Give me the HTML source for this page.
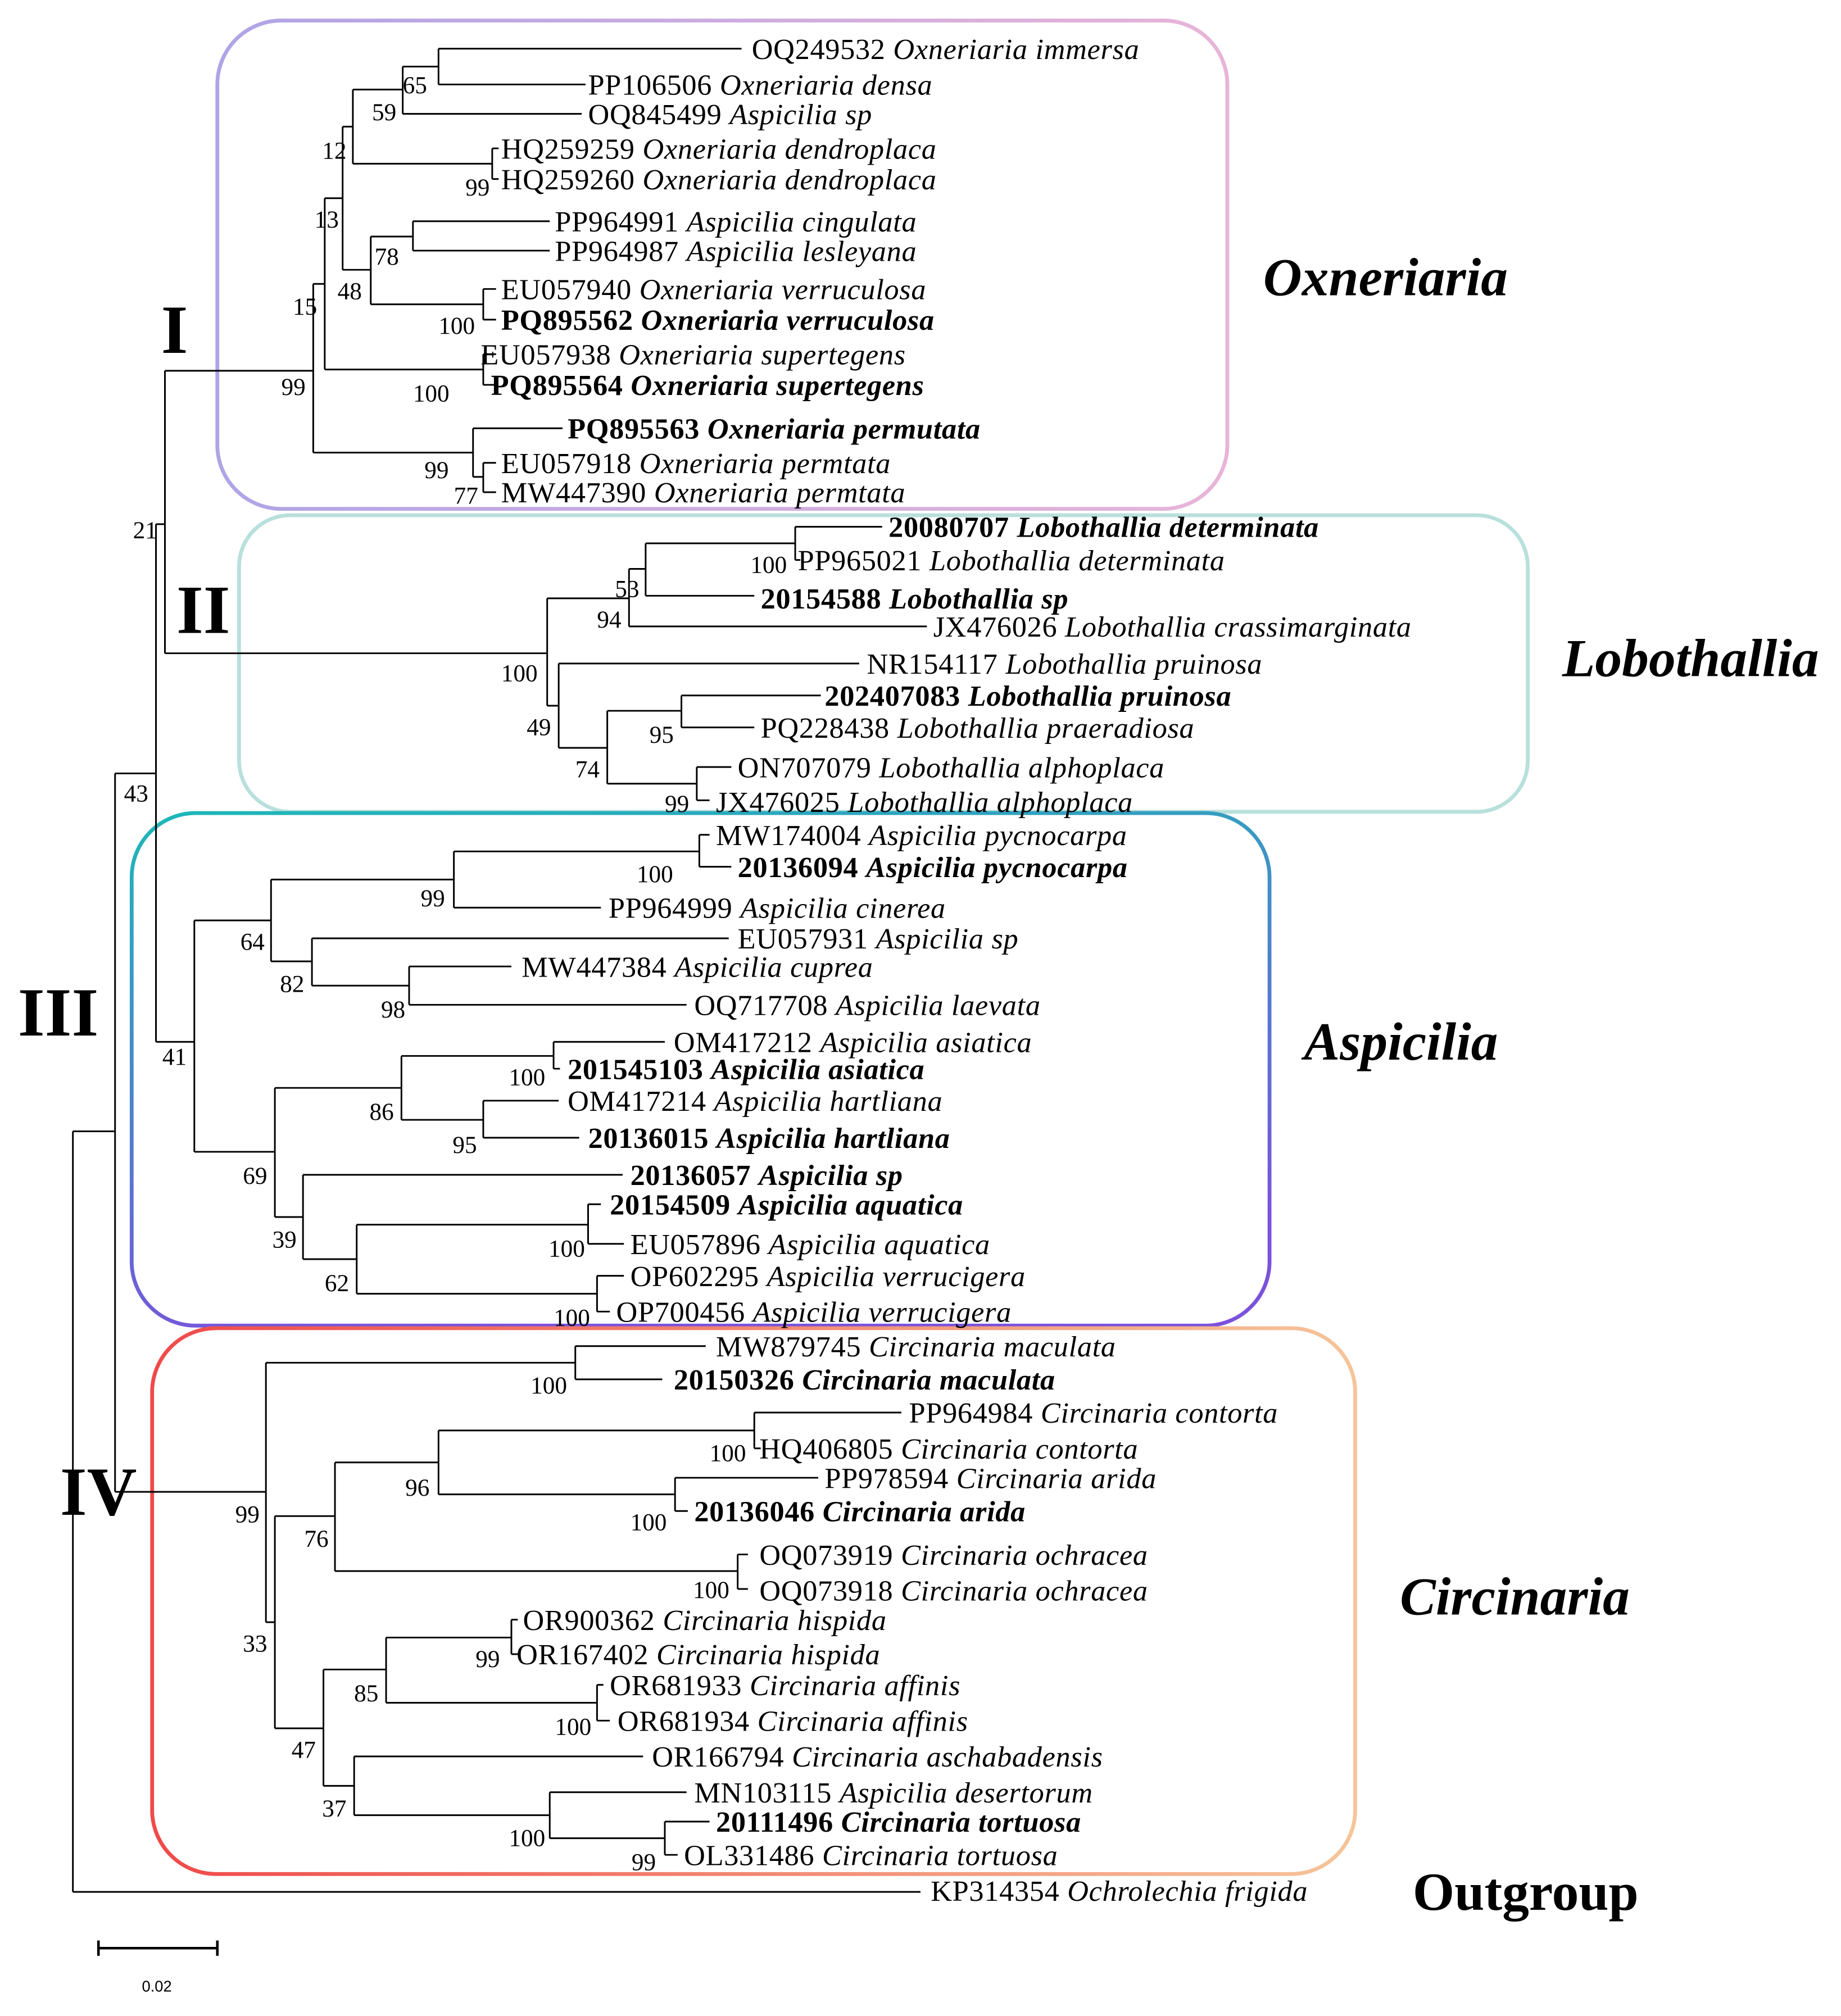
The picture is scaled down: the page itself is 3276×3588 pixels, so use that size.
<!DOCTYPE html>
<html><head><meta charset="utf-8"><style>html,body{margin:0;padding:0;background:#fff}svg{display:block}</style></head><body>
<svg xmlns="http://www.w3.org/2000/svg" width="3276" height="3588" viewBox="0 0 1440 1577">
<defs>
<linearGradient id="g1" x1="0" y1="0" x2="1" y2="0"><stop offset="0" stop-color="#b0a4e6"/><stop offset="1" stop-color="#e8b4d8"/></linearGradient>
<linearGradient id="g3" x1="0" y1="0" x2="0.3" y2="1"><stop offset="0" stop-color="#1db8b8"/><stop offset="1" stop-color="#7a52dc"/></linearGradient>
<linearGradient id="g4" x1="0" y1="0" x2="1" y2="0"><stop offset="0" stop-color="#ef4a4a"/><stop offset="1" stop-color="#f6c49a"/></linearGradient>
</defs>
<rect width="1440" height="1577" fill="#fff"/>
<g fill="none" stroke-width="3">
<rect x="170" y="16" width="790" height="382" rx="50" stroke="url(#g1)"/>
<rect x="187" y="403" width="1008" height="232" rx="40" stroke="#b8e0dc"/>
<rect x="103" y="636" width="890" height="401" rx="50" stroke="url(#g3)"/>
<rect x="119" y="1039" width="941" height="427" rx="50" stroke="url(#g4)"/>
</g>
<g stroke="#000" stroke-width="1.3" fill="none">
<path d="M343 38H580M343 66H458M343 38V66M315 52H343M315 89H455M315 52V89"/>
<path d="M385 116H390M385 140H390M385 116V140M276 70H315M276 128H385M276 70V128"/>
<path d="M323 173H430M323 196H430M323 173V196M378 226H388M378 250H388M378 226V250M290 185H323M290 238H378M290 185V238"/>
<path d="M268 99H276M268 211H290M268 99V211M378 277H388M378 301H388M378 277V301M254 155H268M254 289H378M254 155V289"/>
<path d="M378 362H388M378 385H388M378 362V385M370 335H440M370 373H378M370 335V373M245 222H254M245 354H370M245 222V354"/>
<path d="M129 290H245M129 290V511M129 511H428"/>
<path d="M622 412H690M622 438H626M622 412V438M505 425H622M505 466H590M505 425V466M492 445H505M492 490H725M492 445V490"/>
<path d="M533 544H642M533 569H590M533 544V569M545 600H572M545 626H555M545 600V626M475 556H533M475 613H545M475 556V613M437 519H672M437 585H475M437 519V585M428 468H492M428 552H437M428 468V552"/>
<path d="M122 410H129M122 410V815M122 815H152M90 605H122M90 605V1167M90 1167H208M57 885H90M57 885V1480M57 1480H720"/>
<path d="M547 653H555M547 678H572M547 653V678M355 666H547M355 710H470M355 666V710M320 756H400M320 786H537M320 756V786M244 734H570M244 771H320M244 734V771M212 688H355M212 752H244M212 688V752M152 720H212M152 720V901"/>
<path d="M433 815H520M433 836H438M433 815V836M378 861H437M378 890H453M378 861V890M314 826H433M314 876H378M314 826V876"/>
<path d="M460 942H470M460 973H488M460 942V973M467 998H488M467 1026H477M467 998V1026M279 958H460M279 1012H467M279 958V1012M237 919H487M237 985H279M237 919V985M215 851H314M215 952H237M215 851V952M152 901H215"/>
<path d="M450 1053H552M450 1079H518M450 1053V1079M590 1105H705M590 1133H595M590 1105V1133M528 1156H640M528 1182H538M528 1156V1182M343 1119H590M343 1169H528M343 1119V1169"/>
<path d="M577 1216H585M577 1243H585M577 1216V1243M262 1144H343M262 1229H577M262 1144V1229"/>
<path d="M400 1267H405M400 1294H405M400 1267V1294M467 1318H472M467 1346H477M467 1318V1346M302 1281H400M302 1332H467M302 1281V1332"/>
<path d="M520 1425H555M520 1451H530M520 1425V1451M430 1402H537M430 1438H520M430 1402V1438M277 1374H503M277 1420H430M277 1374V1420M253 1306H302M253 1397H277M253 1306V1397M215 1186H262M215 1352H253M215 1186V1352M208 1066H450M208 1269H215M208 1066V1269"/>
<path d="M77 1524H170M77 1518V1530M170 1518V1530" stroke-width="2"/>
</g>
<g font-family="Liberation Serif, serif" font-size="23" letter-spacing="0.3" fill="#000">
<text x="588" y="46">OQ249532 <tspan font-style="italic">Oxneriaria immersa</tspan></text>
<text x="460" y="74">PP106506 <tspan font-style="italic">Oxneriaria densa</tspan></text>
<text x="460" y="97">OQ845499 <tspan font-style="italic">Aspicilia sp</tspan></text>
<text x="392" y="124">HQ259259 <tspan font-style="italic">Oxneriaria dendroplaca</tspan></text>
<text x="392" y="148">HQ259260 <tspan font-style="italic">Oxneriaria dendroplaca</tspan></text>
<text x="434" y="181">PP964991 <tspan font-style="italic">Aspicilia cingulata</tspan></text>
<text x="434" y="204">PP964987 <tspan font-style="italic">Aspicilia lesleyana</tspan></text>
<text x="392" y="234">EU057940 <tspan font-style="italic">Oxneriaria verruculosa</tspan></text>
<text x="392" y="258" font-weight="bold">PQ895562 <tspan font-style="italic">Oxneriaria verruculosa</tspan></text>
<text x="376" y="285">EU057938 <tspan font-style="italic">Oxneriaria supertegens</tspan></text>
<text x="384" y="309" font-weight="bold">PQ895564 <tspan font-style="italic">Oxneriaria supertegens</tspan></text>
<text x="444" y="343" font-weight="bold">PQ895563 <tspan font-style="italic">Oxneriaria permutata</tspan></text>
<text x="392" y="370">EU057918 <tspan font-style="italic">Oxneriaria permtata</tspan></text>
<text x="392" y="393">MW447390 <tspan font-style="italic">Oxneriaria permtata</tspan></text>
<text x="695" y="420" font-weight="bold">20080707 <tspan font-style="italic">Lobothallia determinata</tspan></text>
<text x="624" y="446">PP965021 <tspan font-style="italic">Lobothallia determinata</tspan></text>
<text x="595" y="476" font-weight="bold">20154588 <tspan font-style="italic">Lobothallia sp</tspan></text>
<text x="730" y="498">JX476026 <tspan font-style="italic">Lobothallia crassimarginata</tspan></text>
<text x="678" y="527">NR154117 <tspan font-style="italic">Lobothallia pruinosa</tspan></text>
<text x="645" y="552" font-weight="bold">202407083 <tspan font-style="italic">Lobothallia pruinosa</tspan></text>
<text x="595" y="577">PQ228438 <tspan font-style="italic">Lobothallia praeradiosa</tspan></text>
<text x="577" y="608">ON707079 <tspan font-style="italic">Lobothallia alphoplaca</tspan></text>
<text x="560" y="635">JX476025 <tspan font-style="italic">Lobothallia alphoplaca</tspan></text>
<text x="560" y="661">MW174004 <tspan font-style="italic">Aspicilia pycnocarpa</tspan></text>
<text x="577" y="686" font-weight="bold">20136094 <tspan font-style="italic">Aspicilia pycnocarpa</tspan></text>
<text x="476" y="718">PP964999 <tspan font-style="italic">Aspicilia cinerea</tspan></text>
<text x="577" y="742">EU057931 <tspan font-style="italic">Aspicilia sp</tspan></text>
<text x="408" y="764">MW447384 <tspan font-style="italic">Aspicilia cuprea</tspan></text>
<text x="543" y="794">OQ717708 <tspan font-style="italic">Aspicilia laevata</tspan></text>
<text x="527" y="823">OM417212 <tspan font-style="italic">Aspicilia asiatica</tspan></text>
<text x="444" y="844" font-weight="bold">201545103 <tspan font-style="italic">Aspicilia asiatica</tspan></text>
<text x="444" y="869">OM417214 <tspan font-style="italic">Aspicilia hartliana</tspan></text>
<text x="460" y="898" font-weight="bold">20136015 <tspan font-style="italic">Aspicilia hartliana</tspan></text>
<text x="493" y="927" font-weight="bold">20136057 <tspan font-style="italic">Aspicilia sp</tspan></text>
<text x="477" y="950" font-weight="bold">20154509 <tspan font-style="italic">Aspicilia aquatica</tspan></text>
<text x="493" y="981">EU057896 <tspan font-style="italic">Aspicilia aquatica</tspan></text>
<text x="493" y="1006">OP602295 <tspan font-style="italic">Aspicilia verrucigera</tspan></text>
<text x="482" y="1034">OP700456 <tspan font-style="italic">Aspicilia verrucigera</tspan></text>
<text x="560" y="1061">MW879745 <tspan font-style="italic">Circinaria maculata</tspan></text>
<text x="527" y="1087" font-weight="bold">20150326 <tspan font-style="italic">Circinaria maculata</tspan></text>
<text x="711" y="1113">PP964984 <tspan font-style="italic">Circinaria contorta</tspan></text>
<text x="594" y="1141">HQ406805 <tspan font-style="italic">Circinaria contorta</tspan></text>
<text x="645" y="1164">PP978594 <tspan font-style="italic">Circinaria arida</tspan></text>
<text x="543" y="1190" font-weight="bold">20136046 <tspan font-style="italic">Circinaria arida</tspan></text>
<text x="594" y="1224">OQ073919 <tspan font-style="italic">Circinaria ochracea</tspan></text>
<text x="594" y="1252">OQ073918 <tspan font-style="italic">Circinaria ochracea</tspan></text>
<text x="409" y="1275">OR900362 <tspan font-style="italic">Circinaria hispida</tspan></text>
<text x="404" y="1302">OR167402 <tspan font-style="italic">Circinaria hispida</tspan></text>
<text x="477" y="1326">OR681933 <tspan font-style="italic">Circinaria affinis</tspan></text>
<text x="483" y="1354">OR681934 <tspan font-style="italic">Circinaria affinis</tspan></text>
<text x="510" y="1382">OR166794 <tspan font-style="italic">Circinaria aschabadensis</tspan></text>
<text x="543" y="1410">MN103115 <tspan font-style="italic">Aspicilia desertorum</tspan></text>
<text x="560" y="1433" font-weight="bold">20111496 <tspan font-style="italic">Circinaria tortuosa</tspan></text>
<text x="535" y="1459">OL331486 <tspan font-style="italic">Circinaria tortuosa</tspan></text>
<text x="728" y="1487">KP314354 <tspan font-style="italic">Ochrolechia frigida</tspan></text>
</g>
<g font-family="Liberation Serif, serif" font-size="19" fill="#000">
<text x="315" y="73">65</text><text x="291" y="94">59</text><text x="252" y="124">12</text><text x="364" y="153">99</text>
<text x="246" y="178">13</text><text x="293" y="207">78</text><text x="264" y="234">48</text><text x="343" y="261">100</text>
<text x="229" y="246">15</text><text x="323" y="314">100</text><text x="220" y="309">99</text><text x="332" y="374">99</text><text x="355" y="394">77</text>
<text x="104" y="421">21</text><text x="587" y="448">100</text><text x="481" y="467">53</text><text x="467" y="491">94</text>
<text x="392" y="533">100</text><text x="508" y="581">95</text><text x="412" y="575">49</text><text x="450" y="608">74</text><text x="520" y="635">99</text>
<text x="97" y="627">43</text><text x="498" y="690">100</text><text x="329" y="709">99</text><text x="188" y="743">64</text><text x="219" y="776">82</text><text x="298" y="796">98</text>
<text x="127" y="833">41</text><text x="398" y="849">100</text><text x="289" y="876">86</text><text x="354" y="902">95</text><text x="190" y="926">69</text>
<text x="213" y="976">39</text><text x="429" y="983">100</text><text x="254" y="1010">62</text><text x="433" y="1037">100</text>
<text x="415" y="1090">100</text><text x="555" y="1143">100</text><text x="317" y="1170">96</text><text x="493" y="1197">100</text><text x="184" y="1191">99</text>
<text x="238" y="1210">76</text><text x="542" y="1250">100</text><text x="190" y="1292">33</text><text x="372" y="1304">99</text><text x="277" y="1331">85</text>
<text x="434" y="1357">100</text><text x="228" y="1375">47</text><text x="252" y="1421">37</text><text x="398" y="1444">100</text><text x="494" y="1463">99</text>
</g>
<g font-family="Liberation Serif, serif" font-weight="bold" fill="#000">
<text x="126" y="276" font-size="54">I</text>
<text x="138" y="495" font-size="54">II</text>
<text x="14" y="810" font-size="54">III</text>
<text x="47" y="1185" font-size="54">IV</text>
<g font-style="italic" font-size="42">
<text x="988" y="231">Oxneriaria</text>
<text x="1222" y="529">Lobothallia</text>
<text x="1020" y="829">Aspicilia</text>
<text x="1095" y="1263">Circinaria</text>
</g>
<text x="1105" y="1494" font-size="42">Outgroup</text>
</g>
<text x="111" y="1558" font-family="Liberation Sans, sans-serif" font-size="12">0.02</text>
</svg>
</body></html>
